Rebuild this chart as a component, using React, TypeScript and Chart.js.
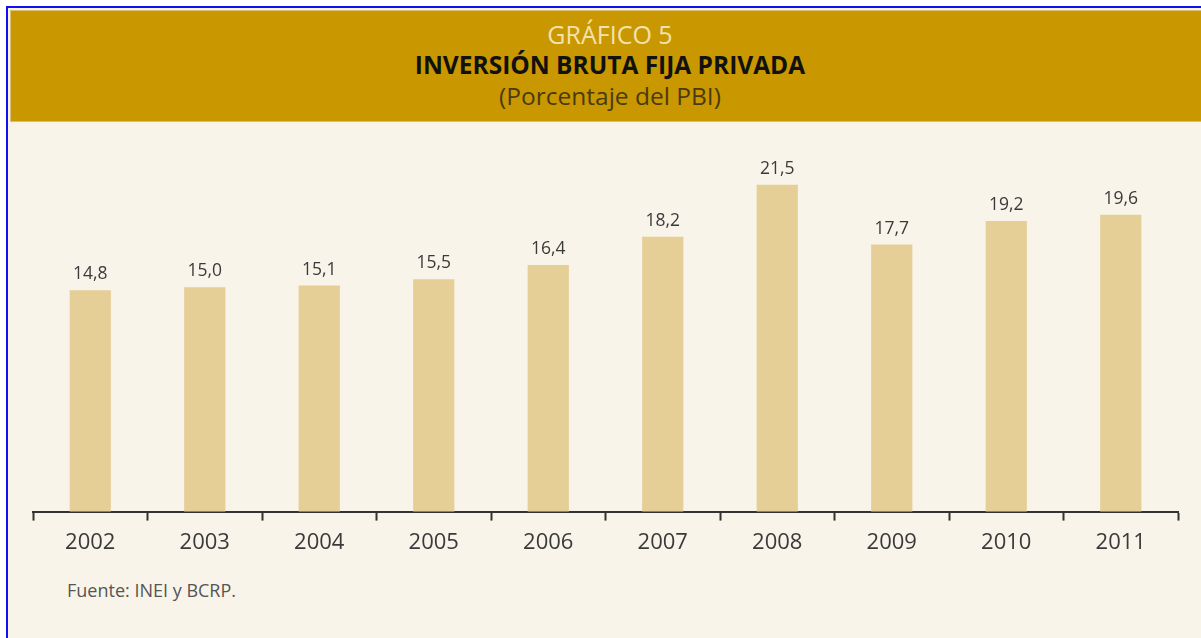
import React, { useEffect, useRef } from "react";
import { Chart, registerables } from "chart.js";

Chart.register(...registerables);

const years: string[] = ["2002", "2003", "2004", "2005", "2006", "2007", "2008", "2009", "2010", "2011"];
const investment: number[] = [14.8, 15.0, 15.1, 15.5, 16.4, 18.2, 21.5, 17.7, 19.2, 19.6];

const titleSmall = "GRÁFICO 5";
const titleMain = "INVERSIÓN BRUTA FIJA PRIVADA";
const titleSub = "(Porcentaje del PBI)";
const sourceNote = "Fuente: INEI y BCRP.";

const FONT = "'Open Sans', 'Noto Sans', sans-serif";

const valueLabels = {
  id: "valueLabels",
  afterDatasetsDraw(chart: any) {
    const ctx = chart.ctx;
    const meta = chart.getDatasetMeta(0);
    ctx.save();
    ctx.font = `17.5px ${FONT}`;
    ctx.fillStyle = "#3a3a3a";
    ctx.textAlign = "center";
    ctx.textBaseline = "alphabetic";
    meta.data.forEach((bar: any, i: number) => {
      const v = investment[i];
      ctx.fillText(v.toFixed(1).replace(".", ","), bar.x, bar.y - 11);
    });
    ctx.restore();
  },
};

export default function App() {
  const ref = useRef<HTMLCanvasElement>(null);

  useEffect(() => {
    if (!ref.current) return;
    const chart = new Chart(ref.current, {
      type: "bar",
      data: {
        labels: years,
        datasets: [
          {
            data: investment,
            backgroundColor: "#e6cf97",
            borderWidth: 0,
            barPercentage: 0.72,
            categoryPercentage: 0.5,
          },
        ],
      },
      options: {
        animation: false,
        responsive: false,
        maintainAspectRatio: false,
        layout: { padding: { left: 33, right: 23, top: 150, bottom: 73 } },
        plugins: {
          legend: { display: false },
          tooltip: { enabled: false },
          title: { display: false },
        },
        scales: {
          x: {
            offset: true,
            grid: {
              offset: true,
              drawOnChartArea: false,
              drawTicks: true,
              tickLength: 9,
              tickColor: "#333333",
              tickWidth: 2,
            },
            border: { display: true, color: "#333333", width: 2 },
            ticks: {
              color: "#3a3a3a",
              font: { family: FONT, size: 22 },
              padding: 9,
            },
          },
          y: {
            display: false,
            min: 0.76,
            max: 23.7,
          },
        },
      },
      plugins: [valueLabels],
    });
    return () => chart.destroy();
  }, []);

  return (
    <div
      style={{
        position: "fixed",
        left: 0,
        top: 0,
        width: 1201,
        height: 638,
        background: "#ffffff",
        overflow: "hidden",
        fontFamily: FONT,
      }}
    >
      <div
        style={{
          position: "absolute",
          left: 6,
          top: 6,
          width: 1195,
          height: 632,
          background: "#f8f4e9",
          borderLeft: "2px solid #1010f0",
          borderTop: "2px solid #1010f0",
          boxSizing: "border-box",
        }}
      />
      <div
        style={{
          position: "absolute",
          left: 10,
          top: 10,
          width: 1191,
          height: 112,
          background: "#c99700",
          borderTop: "1px solid #dcc07a",
          borderLeft: "1px solid #dcc07a",
          borderBottom: "1px solid #dcc07a",
          boxSizing: "border-box",
        }}
      />
      <div
        style={{
          position: "absolute",
          left: 10,
          top: 22,
          width: 1200,
          textAlign: "center",
          lineHeight: 1.0,
        }}
      >
        <div style={{ color: "#f3e2b0", fontSize: 25, height: 31 }}>{titleSmall}</div>
        <div style={{ color: "#111111", fontSize: 24.5, fontWeight: 700, height: 31 }}>{titleMain}</div>
        <div style={{ color: "#4a3b12", fontSize: 24.5 }}>{titleSub}</div>
      </div>
      <div
        style={{
          position: "absolute",
          left: 67,
          top: 578,
          color: "#555555",
          fontSize: 18,
          whiteSpace: "nowrap",
        }}
      >
        {sourceNote}
      </div>
      <canvas
        ref={ref}
        width={1201}
        height={638}
        style={{ position: "absolute", left: 0, top: 0, width: 1201, height: 638 }}
      />
    </div>
  );
}
